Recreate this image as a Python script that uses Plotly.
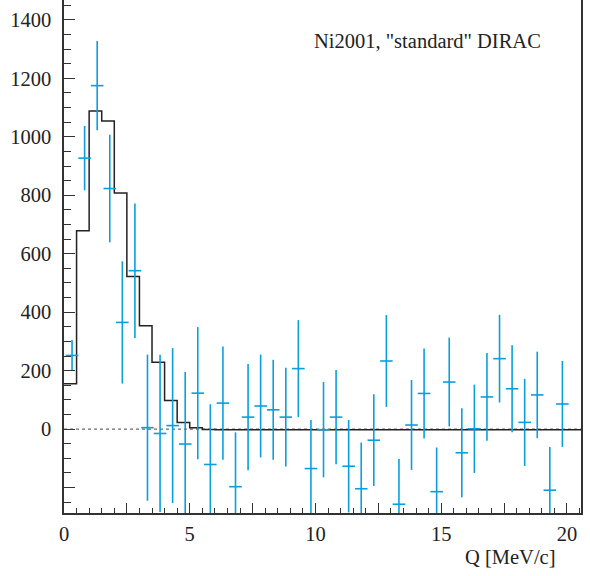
import numpy as np
import plotly.graph_objects as go

# Histogram (simulation, black step), bins of 0.5 MeV/c starting at 0
hist_edges = [0.0, 0.5, 1.0, 1.5, 2.0, 2.5, 3.0, 3.5, 4.0, 4.5, 5.0, 5.5, 6.0, 6.5, 7.0,
              7.5, 8.0, 8.5, 9.0, 9.5, 10.0, 10.5, 11.0, 11.5, 12.0, 12.5, 13.0, 13.5,
              14.0, 14.5, 15.0, 15.5, 16.0, 16.5, 17.0, 17.5, 18.0, 18.5, 19.0, 19.5,
              20.0, 20.5, 21.0]
hist_vals = [155, 679, 1088, 1054, 808, 522, 354, 229, 98, 23, 5, -1, -2, -2, -2,
             -2, -2, -2, -2, -2, -2, -2, -2, -2, -2, -2, -2, -2, -2, -2, -2, -2,
             -2, -2, -2, -2, -2, -2, -2, -2, -2, -2]

# Data points (cyan crosses)
data_x = [0.32, 0.82, 1.32, 1.82, 2.32, 2.82, 3.32, 3.82, 4.32, 4.82,
          5.32, 5.82, 6.32, 6.82, 7.32, 7.82, 8.32, 8.82, 9.32, 9.82,
          10.32, 10.82, 11.32, 11.82, 12.32, 12.82, 13.32, 13.82, 14.32, 14.82,
          15.32, 15.82, 16.32, 16.82, 17.32, 17.82, 18.32, 18.82, 19.32, 19.82]
data_y = [252, 927, 1175, 823, 365, 542, 5, -15, 12, -51,
          123, -121, 89, -197, 41, 79, 66, 41, 207, -135,
          -2, 41, -127, -204, -38, 233, -257, 14, 122, -214,
          161, -81, 1, 110, 241, 138, 23, 117, -209, 86]
data_err = [53, 110, 153, 184, 209, 230, 250, 269, 265, 246,
            226, 206, 194, 186, 182, 176, 171, 169, 166, 166,
            163, 161, 158, 158, 157, 157, 155, 154, 154, 151,
            152, 152, 151, 150, 150, 149, 149, 148, 148, 147]
data_xerr = [0.25] * len(data_x)

x_tickvals = [0, 2.5, 5, 7.5, 10, 12.5, 15, 17.5, 20]
x_ticktext = ["0", "", "5", "", "10", "", "15", "", "20"]
y_tickvals = [-200, 0, 200, 400, 600, 800, 1000, 1200, 1400]
y_ticktext = ["", "0", "200", "400", "600", "800", "1000", "1200", "1400"]

CYAN = "#0a9fdc"
AX = "#333333"
FONT = "Liberation Serif"

fig = go.Figure()

fig.add_hline(y=0, line=dict(color="#444444", width=1, dash="3px,3px"), layer="below")

# step histogram: repeat last value at final edge
hx = hist_edges
hy = hist_vals + [hist_vals[-1]]
fig.add_trace(go.Scatter(x=hx, y=hy, mode="lines", line_shape="hv",
                         line=dict(color="#222222", width=1.5),
                         hoverinfo="skip", showlegend=False))

fig.add_trace(go.Scatter(
    x=data_x, y=data_y, mode="markers",
    marker=dict(size=1, color=CYAN),
    error_y=dict(type="data", array=data_err, color=CYAN, thickness=1.6, width=0),
    error_x=dict(type="data", array=data_xerr, color=CYAN, thickness=1.6, width=0),
    showlegend=False))

fig.add_annotation(text='Ni2001, "standard" DIRAC', xref="paper", yref="paper",
                   x=0.4793, y=0.92, xanchor="left", yanchor="middle",
                   showarrow=False, font=dict(family=FONT, size=20.5, color="#222222"))
fig.add_annotation(text="Q [MeV/c]", xref="paper", yref="paper",
                   x=0.9546, y=-0.0864, xanchor="right", yanchor="middle",
                   showarrow=False, font=dict(family=FONT, size=20.5, color="#222222"))

fig.update_layout(
    width=590, height=576,
    margin=dict(l=64, r=8.5, t=0, b=63.3),
    paper_bgcolor="white", plot_bgcolor="white",
    font=dict(family=FONT, size=20.5, color="#222222"),
    xaxis=dict(range=[0, 20.56], showgrid=False, zeroline=False,
               showline=True, linecolor=AX, linewidth=1.5, mirror=False,
               ticks="inside", ticklen=10, tickwidth=1.3, tickcolor=AX,
               tickvals=x_tickvals, ticktext=x_ticktext,
               ticklabelstandoff=2,
               minor=dict(dtick=0.5, tick0=0, ticks="inside", ticklen=5,
                          tickwidth=1.3, tickcolor=AX, showgrid=False)),
    yaxis=dict(range=[-287, 1468], showgrid=False, zeroline=False,
               showline=True, linecolor=AX, linewidth=1.5, mirror=True,
               ticks="inside", ticklen=11, tickwidth=1.3, tickcolor=AX,
               tickvals=y_tickvals, ticktext=y_ticktext,
               ticklabelstandoff=7,
               minor=dict(dtick=50, tick0=0, ticks="inside", ticklen=7,
                          tickwidth=1.3, tickcolor=AX, showgrid=False)),
)

fig.write_html("out.html")
